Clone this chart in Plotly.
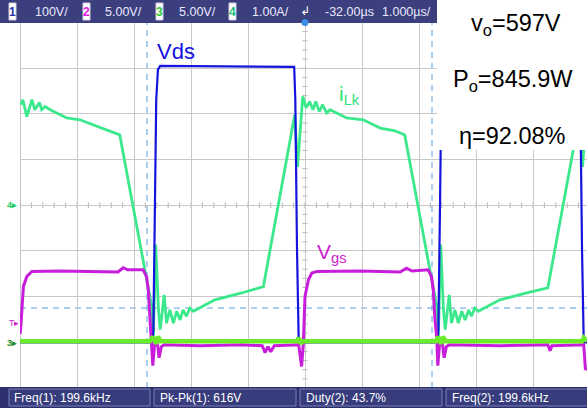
import plotly.graph_objects as go

W, H = 587, 408

# ---- time base: 1 us/div, screen starts at t = 0 us ----
# Ch4: leakage inductor current iLk (A), 1.00 A/div, ground at 0 div
t_ilk = [0.01, 0.05, 0.12, 0.21, 0.26, 0.34, 0.38, 0.44, 0.53, 0.82, 1.05, 1.40, 1.75,
         2.31, 2.34, 2.38, 2.43, 2.46, 2.53, 2.57, 2.63, 2.69, 2.75, 2.81, 2.86, 2.92, 2.98, 3.04, 3.42, 3.89, 4.27,
         4.82, 4.87, 4.96, 5.02, 5.08, 5.14, 5.19, 5.25, 5.31, 5.38, 5.44, 5.73, 6.02, 6.32, 6.58, 6.75,
         7.31, 7.34, 7.38, 7.43, 7.46, 7.53, 7.57, 7.63, 7.69, 7.75, 7.81, 7.87, 7.92, 7.98, 8.04, 8.42, 8.89, 9.26,
         9.82, 9.87, 9.95]
ilk = [2.20, 2.31, 1.94, 2.31, 2.09, 2.25, 2.09, 2.16, 2.09, 1.91, 1.87, 1.70, 1.54,
       -2.21, -2.88, -0.86, -2.29, -2.72, -1.96, -2.58, -2.29, -2.58, -2.32, -2.51, -2.29, -2.43, -2.25, -2.32, -2.07, -1.92, -1.78,
       1.98, 0.84, 2.38, 2.13, 2.27, 2.09, 2.27, 2.05, 2.20, 2.02, 2.09, 1.91, 1.87, 1.69, 1.63, 1.54,
       -2.21, -2.88, -0.86, -2.29, -2.72, -1.96, -2.58, -2.29, -2.58, -2.32, -2.51, -2.29, -2.43, -2.25, -2.32, -2.07, -1.92, -1.81,
       1.98, 0.84, 2.31]

# Ch1: drain-source voltage Vds (V), 100 V/div, ground at -3 div
t_vds = [0.00, 2.32, 2.34, 2.37, 2.39, 2.42, 2.46, 4.81, 4.83, 4.86, 4.89,
         7.32, 7.34, 7.37, 7.39, 7.42, 7.46, 9.81, 9.83, 9.86, 9.89, 9.95]
vds = [0, 0, 27, 312, 531, 597, 605, 603, 531, 203, 0,
       0, 27, 312, 531, 597, 605, 603, 531, 203, 0, 0]

# Ch2: gate-source voltage Vgs (V), 5.00 V/div, ground at -3 div
t_vgs = [0.00, 0.01, 0.03, 0.06, 0.12, 0.21, 0.70, 1.40, 1.72, 1.81, 1.89,
         2.16, 2.22, 2.25, 2.28, 2.31, 2.33, 2.36, 2.40, 2.44, 2.48, 2.53,
         3.16, 3.86, 4.25, 4.30, 4.35, 4.40, 4.46, 4.89, 4.94, 4.97,
         5.00, 5.06, 5.12, 5.21, 5.96, 6.67, 6.78, 6.88,
         7.16, 7.22, 7.25, 7.28, 7.31, 7.33, 7.36, 7.40, 7.44, 7.48, 7.53,
         8.42, 9.26, 9.30, 9.33, 9.89, 9.92, 9.95]
vgs = [0.9, 1.38, 3.21, 6.12, 7.21, 7.76, 7.8, 7.7, 7.7, 8.16, 7.94,
       7.94, 7.18, 5.76, 2.47, 0.61, -2.56, -0.26, 0.50, -1.69, -0.48, -0.26,
       -0.37, -0.26, -0.37, -1.14, -0.48, -1.03, -0.37, -0.26, -2.64, -0.26,
       5.02, 6.85, 7.58, 7.76, 7.8, 7.7, 8.1, 7.8,
       7.94, 7.18, 5.76, 2.47, 0.61, -2.56, -0.26, 0.50, -1.69, -0.48, -0.26,
       -0.37, -0.26, -0.92, -0.37, -0.26, -3.0, -2.8]

# Ch3 (V), 5.00 V/div, ground at -3 div
t_ch3 = [0.00, 2.28, 2.33, 2.39, 2.42, 2.47, 4.86, 4.89, 4.93, 4.96,
         7.30, 7.33, 7.39, 7.42, 7.47, 9.86, 9.89, 9.95]
ch3 = [0.12, 0.12, 0.6, -0.15, 0.6, 0.12, 0.12, 0.5, -0.15, 0.12,
       0.12, 0.6, -0.15, 0.6, 0.12, 0.12, 0.5, 0.12]

# cursors
cursor_t = [2.228, 7.228]
cursor_level = -2.25  # div

top_labels = ["100V/", "5.00V/", "5.00V/", "1.00A/", "-32.00µs", "1.000µs/"]
meas_labels = ["Freq(1): 199.6kHz", "Pk-Pk(1): 616V", "Duty(2): 43.7%", "Freq(2): 199.6kHz"]
results = ["v<sub>o</sub>=597V", "P<sub>o</sub>=845.9W", "η=92.08%"]

C_VDS = "#1414dc"
C_VGS = "#c81edc"
C_ILK = "#3ce88c"
C_CH3 = "#6aec2a"
ARIAL = "Arial, 'Liberation Sans', sans-serif"


def px(x):
    return x / W


def py(y):
    return 1 - y / H


x_max = (587 - 20) / 57.0
ydom = [py(388), py(22.5)]

fig = go.Figure()
fig.add_trace(go.Scatter(x=t_vgs, y=vgs, yaxis="y3", mode="lines",
                         line=dict(color=C_VGS, width=3), hoverinfo="skip"))
fig.add_trace(go.Scatter(x=t_ilk, y=ilk, yaxis="y", mode="lines",
                         line=dict(color=C_ILK, width=2.8), hoverinfo="skip"))
fig.add_trace(go.Scatter(x=t_vds, y=vds, yaxis="y2", mode="lines",
                         line=dict(color=C_VDS, width=2.2), hoverinfo="skip"))
fig.add_trace(go.Scatter(x=t_ch3, y=ch3, yaxis="y4", mode="lines",
                         line=dict(color=C_CH3, width=4.5), hoverinfo="skip"))

shapes = []
# minor ticks on centre lines
for i in range(50):
    shapes.append(dict(type="line", xref="x", yref="y", x0=i * 0.2, x1=i * 0.2, y0=-0.06, y1=0.06,
                       line=dict(color="#b4b4b4", width=1), layer="below"))
for j in range(-20, 21):
    shapes.append(dict(type="line", xref="x", yref="y", x0=4.955, x1=5.045, y0=j * 0.2, y1=j * 0.2,
                       line=dict(color="#b4b4b4", width=1), layer="below"))
# left border
shapes.append(dict(type="line", xref="x", yref="y", x0=0, x1=0, y0=-4, y1=4,
                   line=dict(color="#8c8c8c", width=1), layer="below"))
# cursors
for ct in cursor_t:
    shapes.append(dict(type="line", xref="x", yref="y", x0=ct, x1=ct, y0=-4, y1=4,
                       line=dict(color="#5b9ee0", width=1, dash="6px,5px"), layer="below"))
shapes.append(dict(type="line", xref="x", yref="y", x0=0, x1=x_max, y0=cursor_level, y1=cursor_level,
                   line=dict(color="#5b9ee0", width=1, dash="6px,5px"), layer="below"))
# top bar
shapes.append(dict(type="rect", xref="paper", yref="paper", x0=0, x1=1, y0=py(23), y1=1,
                   fillcolor="#3b3f7d", line_width=0, layer="above"))
# bottom bar
shapes.append(dict(type="rect", xref="paper", yref="paper", x0=0, x1=1, y0=0, y1=py(387),
                   fillcolor="#2c306c", line_width=0, layer="above"))
for bx0, bx1 in [(9, 150), (154, 296), (300, 442), (446, 592)]:
    shapes.append(dict(type="rect", xref="paper", yref="paper", x0=px(bx0), x1=px(bx1),
                       y0=py(406), y1=py(389), fillcolor="#363c7c",
                       line=dict(color="#7a80b8", width=1), layer="above"))
# channel number boxes
chan_boxes = [(9, "1", "#2830a8"), (83, "2", "#e020e0"), (156, "3", "#30c830"), (229, "4", "#20c078")]
for bx, _, _ in chan_boxes:
    shapes.append(dict(type="rect", xref="paper", yref="paper", x0=px(bx), x1=px(bx + 7),
                       y0=py(20), y1=py(3), fillcolor="white", line=dict(color="#d0d0e0", width=1),
                       layer="above"))
# trigger position marker
shapes.append(dict(type="circle", xref="paper", yref="paper", x0=px(301.5), x1=px(308.5),
                   y0=py(26), y1=py(19), fillcolor="#3a8fe0", line_width=0, layer="above"))
# white results box
shapes.append(dict(type="rect", xref="paper", yref="paper", x0=px(437), x1=1, y0=py(150), y1=1,
                   fillcolor="white", line_width=0, layer="above"))


def note(x, y, text, size, color, family=ARIAL, xanchor="center", weight="normal"):
    return dict(x=px(x), y=py(y), xref="paper", yref="paper", text=text, showarrow=False,
                xanchor=xanchor, yanchor="middle",
                font=dict(family=family, size=size, color=color, weight=weight))


ann = []
for (bx, d, c) in chan_boxes:
    ann.append(note(bx + 3.5, 11.5, d, 12, c, weight="bold"))
for txt, x in zip(top_labels, [33, 103, 177, 250, 323, 380]):
    ann.append(note(x, 11.5, txt, 12.5, "#eaeaff", xanchor="left"))
ann.append(note(305, 11, "↲", 12, "white", family="DejaVu Sans"))
for txt, x in zip(meas_labels, [12, 158, 304, 450]):
    ann.append(note(x, 397.5, txt, 12, "white", xanchor="left"))
# left markers
ann.append(note(12, 205, "4▸", 9, "#22cc66", weight="bold"))
ann.append(note(14, 323, "T▸", 9, "#cc22cc"))
ann.append(note(12, 343, "3▸", 9, "#2a8a2a", weight="bold"))
# trace labels
ann.append(note(155, 51, "Vds", 22, "#1212e0", xanchor="left"))
ann.append(note(337, 95, "i<sub>Lk</sub>", 21, "#30e07a", xanchor="left"))
ann.append(note(315, 253, "V<sub>gs</sub>", 21, "#cc22cc", xanchor="left"))
# results
for txt, (x, y) in zip(results, [(516, 24), (513, 81), (512, 136)]):
    ann.append(note(x, y, txt, 23.5, "black"))

fig.update_layout(
    width=W, height=H, margin=dict(l=0, r=0, t=0, b=0),
    paper_bgcolor="white", plot_bgcolor="white", showlegend=False,
    xaxis=dict(domain=[px(20), 1], range=[0, x_max], dtick=1, tick0=0, showgrid=True,
               gridcolor="#c8c8c8", gridwidth=1, zeroline=False, showticklabels=False, ticks=""),
    yaxis=dict(domain=ydom, range=[-4, 4], dtick=1, tick0=0, showgrid=True, gridcolor="#c8c8c8",
               gridwidth=1, zeroline=False, showticklabels=False, ticks=""),
    yaxis2=dict(overlaying="y", range=[-100, 700], visible=False),
    yaxis3=dict(overlaying="y", range=[-5, 35], visible=False),
    yaxis4=dict(overlaying="y", range=[-5, 35], visible=False),
    shapes=shapes, annotations=ann,
)

fig.write_html("out.html", config={"displayModeBar": False},
               post_script="document.body.style.margin='0';document.body.style.overflow='hidden';")
